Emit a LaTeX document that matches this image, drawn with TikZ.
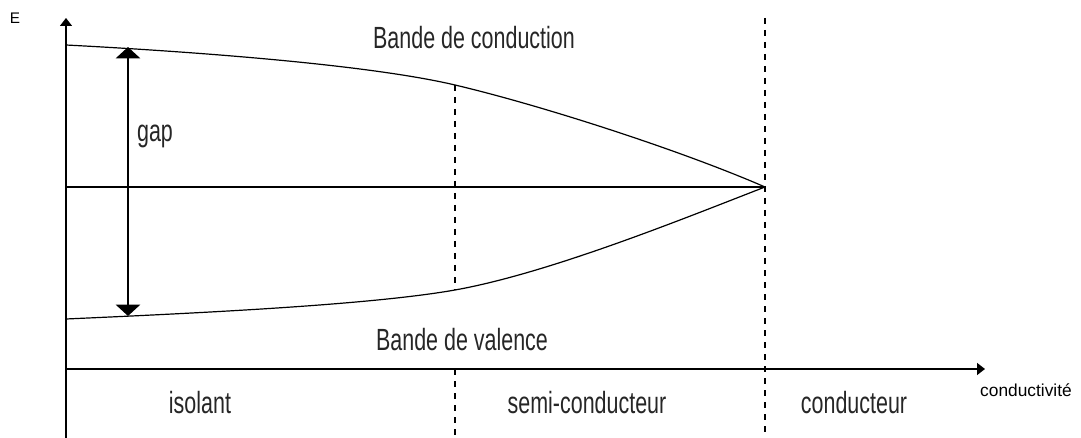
\documentclass[tikz,border=0pt]{standalone}
\usepackage{fontspec}
\setmainfont{Liberation Sans}
\newfontfamily\cond[FakeStretch=0.7]{Liberation Sans}
\usetikzlibrary{arrows.meta}
\tikzset{
  axis/.style={line width=1.1pt,-{Triangle[width=9pt,length=6pt]}},
  band/.style={line width=0.9pt},
  dashline/.style={line width=0.9pt,dash pattern=on 4.5pt off 4.5pt},
  gaparrow/.style={line width=2.2pt,{Triangle[width=18pt,length=8.5pt]}-{Triangle[width=18pt,length=8.5pt]}},
  lbl/.style={font=\cond\fontsize{23pt}{26pt}\selectfont,inner sep=0pt,anchor=base,text=black!85},
  small/.style={font=\fontsize{13pt}{15pt}\selectfont,inner sep=0pt,anchor=base}
}
\begin{document}
\begin{tikzpicture}[x=0.75pt,y=-0.75pt]
\useasboundingbox (0,0) rectangle (1081,438);
% coordinates
\coordinate (O) at (66,369);
\coordinate (Ybot) at (66,438);
\coordinate (Ytop) at (66,18);
\coordinate (Xend) at (985,369);
\coordinate (C0) at (66,45);
\coordinate (C1) at (455,85);
\coordinate (V0) at (66,319);
\coordinate (V1) at (455,290);
\coordinate (M) at (765,187);
\coordinate (M0) at (66,187);
\coordinate (D1b) at (455,369);
\coordinate (D1e) at (455,438);
\coordinate (D2t) at (765,18);
\coordinate (D2b) at (765,438);
\coordinate (Gt) at (128,47);
\coordinate (Gb) at (128,316);
% axes
\draw[axis] (Ybot) -- (Ytop);
\draw[axis] (O) -- (Xend);
% bands
\draw[band] (C0) .. controls (200,52) and (370,65) .. (C1)
            .. controls (540,105) and (680,150) .. (M);
\draw[band] (V0) .. controls (200,313) and (370,305) .. (V1)
            .. controls (550,273) and (685,218) .. (M);
\draw[band] (M0) -- (M);
% dashed separators
\draw[dashline] (C1) -- (V1);
\draw[dashline] (D1b) -- (D1e);
\draw[dashline] (D2t) -- (D2b);
% gap arrow
\draw[gaparrow] (Gb) -- (Gt);
% labels
\node[small,font=\fontsize{11.5pt}{13pt}\selectfont] (E) at (15,24) {E};
\node[small] (cond) at (1026,396) {conductivité};
\node[lbl] (bc) at (474,49) {Bande de conduction};
\node[lbl] (bv) at (462,350) {Bande de valence};
\node[lbl] (gap) at (155,142) {gap};
\node[lbl] (iso) at (200,413) {isolant};
\node[lbl] (semi) at (587,413) {semi-conducteur};
\node[lbl] (con) at (854,413) {conducteur};
\end{tikzpicture}
\end{document}
